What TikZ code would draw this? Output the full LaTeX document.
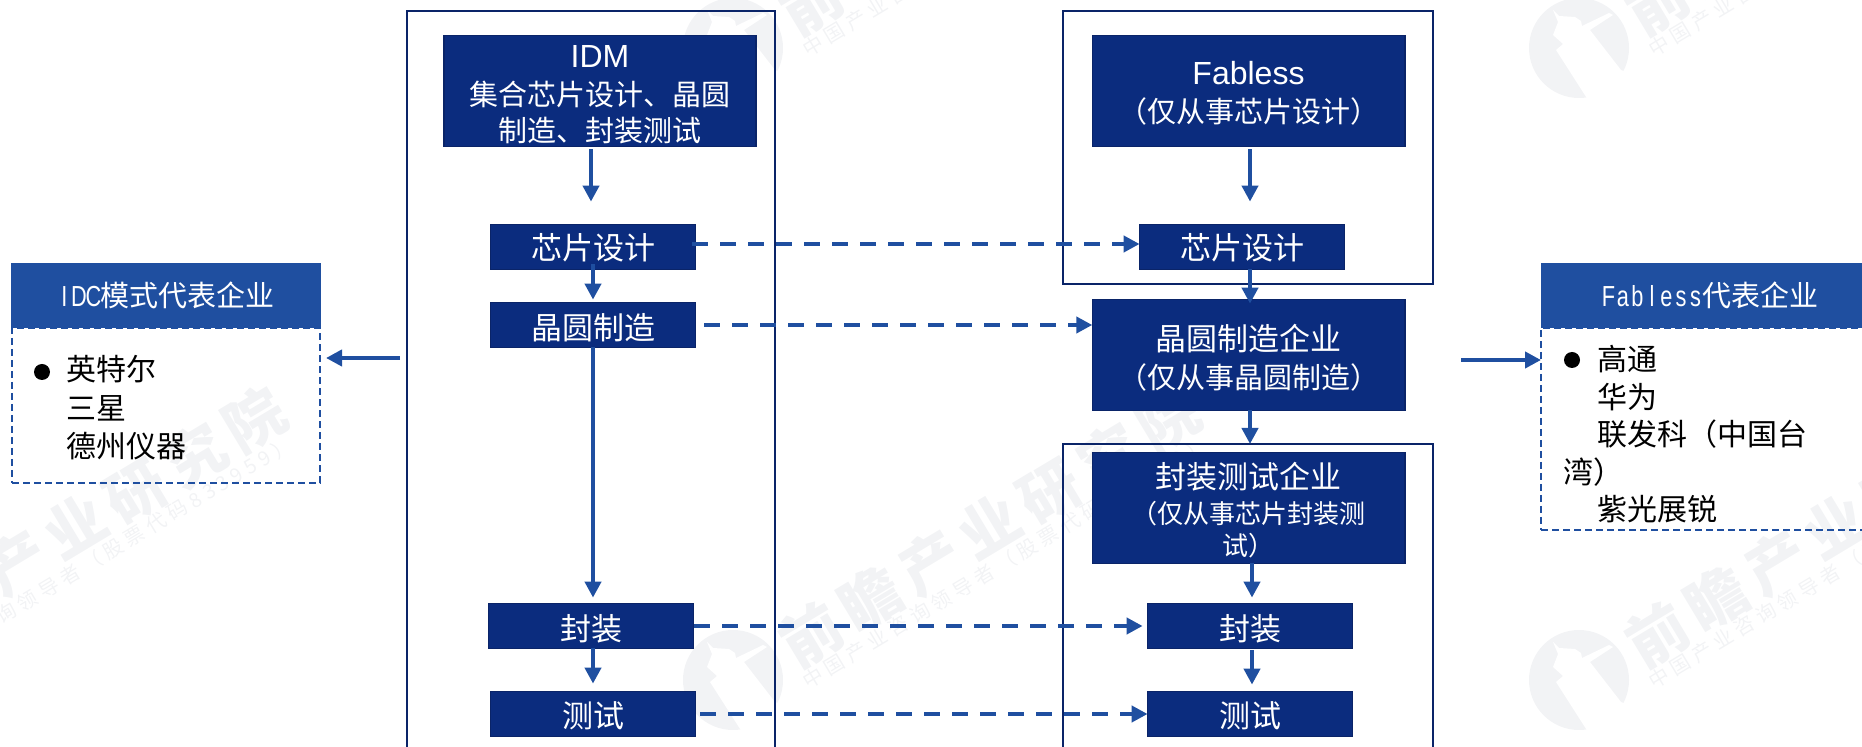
\documentclass[tikz,border=0pt]{standalone}
\usepackage{fontspec}
\setmainfont{Noto Sans CJK SC}
\newfontfamily\lat{Liberation Sans}
\newfontfamily\wmfont[LetterSpace=25]{Noto Sans CJK SC}
\newfontfamily\wmmain[LetterSpace=16]{Noto Sans CJK SC}
\usetikzlibrary{arrows.meta,calc}
\definecolor{navy}{HTML}{0B2C7E}
\definecolor{navyline}{HTML}{0A2468}
\definecolor{midblue}{HTML}{1F4FA0}
\definecolor{wmgrey}{HTML}{F2F3F5}
\newcommand\hl[1]{\makebox[7.25pt]{\scalebox{0.75}[1]{\lat #1}}}
\newcommand\tbox[6]{% name, style, x,y, text drop in pt, text
  \node[#2] (#1) at (#3,#4) {};
  \node[boxtext,yshift=-#5pt] (#1t) at (#1) {#6};}
\newcommand\wm[3]{%
  \begin{scope}[shift={(#1,#2)}]
    \fill[wmgrey] (733,680) circle[radius=50];
    \fill[white] (733,680) ++(-26,-38) -- ++(5,12) -- ++(-5,13) -- ++(10,9) -- ++(-7,6) -- ++(32,50) -- ++(55,-22) -- ++(-22,-8) -- ++(-31,-40) -- ++(23,-15) -- ++(-4,-2) -- ++(-27,13) -- ++(-1,-5) -- ++(-6,-4) -- ++(-16,-1) -- cycle;
    \node[wmtext,font=\wmmain\bfseries\fontsize{30}{30}\selectfont] (wma#3) at (990,527) {前瞻产业研究院};
    \node[wmtext,anchor=west,font=\wmfont\fontsize{10}{10}\selectfont] (wmb#3) at (804,683) {中国产业咨询领导者（股票代码833959）};
  \end{scope}}
\tikzset{
  x=0.5pt,y=-0.5pt,
  wmtext/.style={text=wmgrey,rotate=31,inner sep=0pt},
  frame/.style={draw=navyline,line width=1.25pt,outer sep=0pt,inner sep=0pt},
  darkbox/.style={draw=navyline,fill=navy,line width=0.8pt,outer sep=0pt,inner sep=0pt,minimum width=102.4pt,minimum height=22.4pt},
  bigbox/.style={darkbox,minimum width=156.2pt,minimum height=55.4pt},
  boxtext/.style={text=white,inner sep=0pt,align=center,font=\fontsize{15.5}{18}\selectfont},
  panelhead/.style={fill=midblue,text=white,outer sep=0pt,inner sep=0pt,font=\fontsize{14.5}{16}\selectfont},
  panelbody/.style={draw=midblue,line width=1.3pt,dash pattern=on 3.5pt off 2pt,outer sep=0pt,inner sep=0pt},
  bodytext/.style={anchor=north west,inner sep=0pt,align=left,text=black},
  arr/.style={draw=midblue,line width=2pt,-{Triangle[length=8pt,width=8pt]}},
  darr/.style={arr,dash pattern=on 8pt off 6pt},
}
\begin{document}
\begin{tikzpicture}
\useasboundingbox (0,0) rectangle (1862,747);
\wm{0}{0}{a}
\wm{846}{0}{b}
\wm{0}{-632}{c}
\wm{846}{-632}{d}
\wm{-914}{0}{e}
% frames
\node[frame,minimum width=184pt,minimum height=374.5pt] (frameA) at (591,385.5) {};
\node[frame,minimum width=185pt,minimum height=136.5pt] (frameB) at (1248,147.5) {};
\node[frame,minimum width=185pt,minimum height=158pt] (frameC) at (1248,602) {};
% left column
\tbox{idm}{bigbox}{600}{91}{2}{{\lat\fontsize{16}{18}\selectfont IDM}\\[1pt]\fontsize{14.5}{17}\selectfont 集合芯片设计、晶圆\\\fontsize{14.5}{17}\selectfont 制造、封装测试}
\tbox{a1}{darkbox}{593}{247}{0.2}{芯片设计}
\tbox{a2}{darkbox}{593}{325}{1.6}{晶圆制造}
\tbox{a3}{darkbox}{591}{626}{1.2}{封装}
\tbox{a4}{darkbox}{593}{714}{0.7}{测试}
% right column
\tbox{fab}{bigbox}{1248.5}{91}{1.2}{{\lat\fontsize{16}{18}\selectfont Fabless}\\[1pt]\fontsize{14.5}{17}\selectfont （仅从事芯片设计）}
\tbox{b1}{darkbox}{1242}{247}{0.2}{芯片设计}
\tbox{b2}{bigbox}{1248.5}{355}{1.2}{晶圆制造企业\\[1pt]\fontsize{14.5}{17}\selectfont （仅从事晶圆制造）}
\tbox{b3}{bigbox}{1248.5}{508}{1.25}{封装测试企业\\[-0.5pt]\fontsize{13}{16}\selectfont （仅从事芯片封装测\\[-2pt]\fontsize{13}{16}\selectfont 试）}
\tbox{b4}{darkbox}{1250}{626}{1.2}{封装}
\tbox{b5}{darkbox}{1250}{714}{0.7}{测试}
% side panels
\node[panelbody,minimum width=154pt,minimum height=77.5pt] (lbody) at (166,405.5) {};
\node[panelhead,minimum width=155pt,minimum height=32.5pt] (lhead) at (166,295.5) {\hl{I}\hl{D}\hl{C}模式代表企业};
\node[panelbody,minimum width=169pt,minimum height=101pt] (rbody) at (1710,429) {};
\node[panelhead,minimum width=169pt,minimum height=32.5pt] (rhead) at (1710,295.5) {\hl{F}\hl{a}\hl{b}\hl{l}\hl{e}\hl{s}\hl{s}代表企业};
\fill[black] (42,372) circle[radius=8];
\node[bodytext,font=\fontsize{15}{19.25}\selectfont] (ltext) at (66,355) {英特尔\\三星\\德州仪器};
\fill[black] (1572,360) circle[radius=8];
\node[bodytext,font=\fontsize{15}{18.75}\selectfont] (rtext) at (1597,345) {高通\\华为\\联发科（中国台\\\hspace*{-17pt}湾）\\紫光展锐};
% connector anchors
\coordinate (xa) at (591,0);
\coordinate (xb) at (593,0);
\coordinate (xc) at (1250,0);
\coordinate (xd) at (1252,0);
\coordinate (ya) at (0,358);
\coordinate (yb) at (0,360);
% solid connectors
\draw[arr,shorten <=1.5pt,shorten >=11.5pt] (idm.south -| xa) -- (a1.north -| xa);
\draw[arr,shorten <=-2.5pt,shorten >=1.5pt] (a1.south -| xb) -- (a2.north -| xb);
\draw[arr,shorten >=3pt] (a2.south -| xb) -- (a3.north -| xb);
\draw[arr,shorten >=4pt] (a3.south -| xb) -- (a4.north -| xb);
\draw[arr,shorten <=1.5pt,shorten >=11.5pt] (fab.south -| xc) -- (b1.north -| xc);
\draw[arr,shorten >=-2pt] (b1.south -| xc) -- (b2.north -| xc);
\draw[arr,shorten >=0pt] (b2.south -| xc) -- (frameC.north -| xc);
\draw[arr,shorten >=3pt] (b3.south -| xd) -- (b4.north -| xd);
\draw[arr,shorten <=1pt,shorten >=3.5pt] (b4.south -| xd) -- (b5.north -| xd);
\draw[arr,shorten <=3.5pt,shorten >=3pt] (frameA.west |- ya) -- (lbody.east |- ya);
\draw[arr,shorten <=14pt] (frameB.east |- yb) -- (rbody.west |- yb);
% dashed connectors
\draw[darr,shorten <=-1.5pt] ($(a1.east)+(0,-3)$) -- ($(b1.west)+(0,-3)$);
\draw[darr,shorten <=4.5pt] (a2.east) -- (a2.east -| b2.west);
\draw[darr,shorten <=0.5pt,shorten >=2.5pt] (a3.east) -- (b4.west);
\draw[darr,shorten <=2.5pt] (a4.east) -- (b5.west);
\end{tikzpicture}
\end{document}
